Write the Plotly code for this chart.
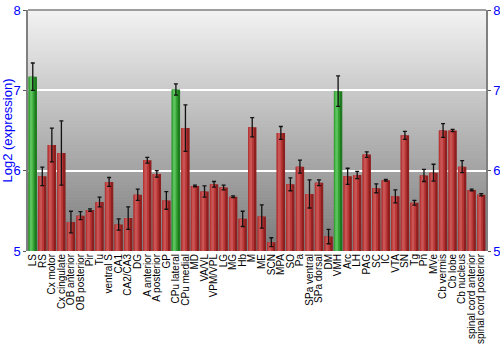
import plotly.graph_objects as go

categories = ["LS", "RS", "Cx motor", "Cx cingulate", "OB anterior", "OB posterior", "Pir", "Tu",
              "ventral S", "CA1", "CA2/CA3", "DG", "A anterior", "A posterior", "GP", "CPu lateral",
              "CPu medial", "MD", "VA/VL", "VPM/VPL", "LG", "MG", "Hb", "M", "ME", "SCN", "MPA", "SO",
              "Pa", "SPa ventral", "SPa dorsal", "DM", "VMH", "Arc", "LH", "PAG", "SC", "IC", "VTA",
              "SN", "Tg", "Pn", "MVe", "Cb vermis", "Cb lobe", "Cb nucleus", "spinal cord anterior",
              "spinal cord posterior"]
values = [7.17, 5.93, 6.32, 6.22, 5.36, 5.44, 5.51, 5.61,
          5.86, 5.33, 5.41, 5.70, 6.13, 5.96, 5.63, 7.01,
          6.53, 5.81, 5.74, 5.83, 5.79, 5.675, 5.40, 6.54, 5.43, 5.11, 6.47, 5.83,
          6.05, 5.71, 5.85, 5.18, 6.99, 5.93, 5.945, 6.20, 5.78, 5.88, 5.68,
          6.44, 5.60, 5.94, 5.975, 6.50, 6.50, 6.05, 5.76,
          5.70]
errors = [0.17, 0.115, 0.21, 0.40, 0.135, 0.05, 0.015, 0.06,
          0.055, 0.07, 0.14, 0.07, 0.035, 0.04, 0.11, 0.07,
          0.29, 0.01, 0.07, 0.035, 0.03, 0.01, 0.095, 0.12, 0.145, 0.055, 0.08, 0.08,
          0.08, 0.175, 0.035, 0.09, 0.19, 0.10, 0.045, 0.035, 0.055, 0.01, 0.08,
          0.05, 0.03, 0.075, 0.105, 0.085, 0.015, 0.075, 0.01,
          0.015]
highlighted = ["LS", "CPu lateral", "VMH"]
y_ticks = [5, 6, 7, 8]

is_hi = [c in highlighted for c in categories]
dark = ["#1f7a1f" if h else "#8f1f1f" for h in is_hi]
mid = ["#36a336" if h else "#b83636" for h in is_hi]
light = ["#5cc25c" if h else "#c95454" for h in is_hi]

fig = go.Figure()
fig.add_trace(go.Bar(x=categories, y=values, width=0.88, marker=dict(color=dark, line=dict(width=0)),
                     hoverinfo="skip", showlegend=False))
fig.add_trace(go.Bar(x=categories, y=values, width=0.62, offset=-0.44,
                     marker=dict(color=mid, line=dict(width=0)), hoverinfo="skip", showlegend=False))
fig.add_trace(go.Bar(x=categories, y=values, width=0.28, offset=-0.30,
                     marker=dict(color=light, line=dict(width=0)), hoverinfo="skip", showlegend=False))
fig.add_trace(go.Scatter(x=categories, y=values, mode="markers", marker=dict(size=0.1, color="rgba(0,0,0,0)"),
                         error_y=dict(type="data", array=errors, color="#111111", thickness=1.3, width=2),
                         hoverinfo="skip", showlegend=False))
fig.add_trace(go.Scatter(x=[categories[0]], y=[5], yaxis="y2", mode="markers",
                         marker=dict(color="rgba(0,0,0,0)"), hoverinfo="skip", showlegend=False))

# vertical grey gradient background
n = 80
def lerp(a, b, t):
    return int(round(a + (b - a) * t))
top_c, bot_c = (243, 243, 243), (122, 122, 122)
shapes = []
for i in range(n):
    t = (i + 0.5) / n
    c = tuple(lerp(top_c[k], bot_c[k], t) for k in range(3))
    shapes.append(dict(type="rect", xref="x domain", yref="y domain", x0=0, x1=1,
                       y0=1 - (i + 1) / n, y1=1 - i / n + 0.002, layer="below",
                       fillcolor="rgb(%d,%d,%d)" % c, line=dict(width=0)))
shapes.append(dict(type="line", xref="x domain", yref="y domain", x0=0, x1=1, y0=1, y1=1,
                   line=dict(color="#808080", width=1.5)))

fig.update_layout(
    width=500, height=350,
    margin=dict(l=28, r=14, t=10, b=99, autoexpand=False),
    paper_bgcolor="white", plot_bgcolor="#bbbbbb",
    barmode="overlay", bargap=0.1,
    font=dict(family="Liberation Sans, Arial, sans-serif", size=10, color="black"),
    shapes=shapes,
    xaxis=dict(tickangle=-90, tickfont=dict(size=10, color="black"), showgrid=False,
               tickmode="array", tickvals=categories, ticktext=categories, automargin=False,
               ticks="", showline=False, range=[-0.5, len(categories) - 0.5]),
    yaxis=dict(range=[5, 8], tickvals=y_ticks, tickfont=dict(size=13, color="#0000ff"),
               title=dict(text="Log2 (expression)", font=dict(size=13, color="#0000ff"), standoff=4),
               showgrid=True, gridcolor="white", gridwidth=1.5, zeroline=False, automargin=False,
               showline=True, linecolor="#808080", linewidth=1.5, ticks="outside",
               ticklen=3, tickcolor="#555555"),
    yaxis2=dict(range=[5, 8], tickvals=y_ticks, overlaying="y", side="right", automargin=False,
                tickfont=dict(size=13, color="#0000ff"), showgrid=False, zeroline=False,
                showline=True, linecolor="#808080", linewidth=1.5, ticks="outside",
                ticklen=3, tickcolor="#555555"),
)

fig.write_html("out.html")
